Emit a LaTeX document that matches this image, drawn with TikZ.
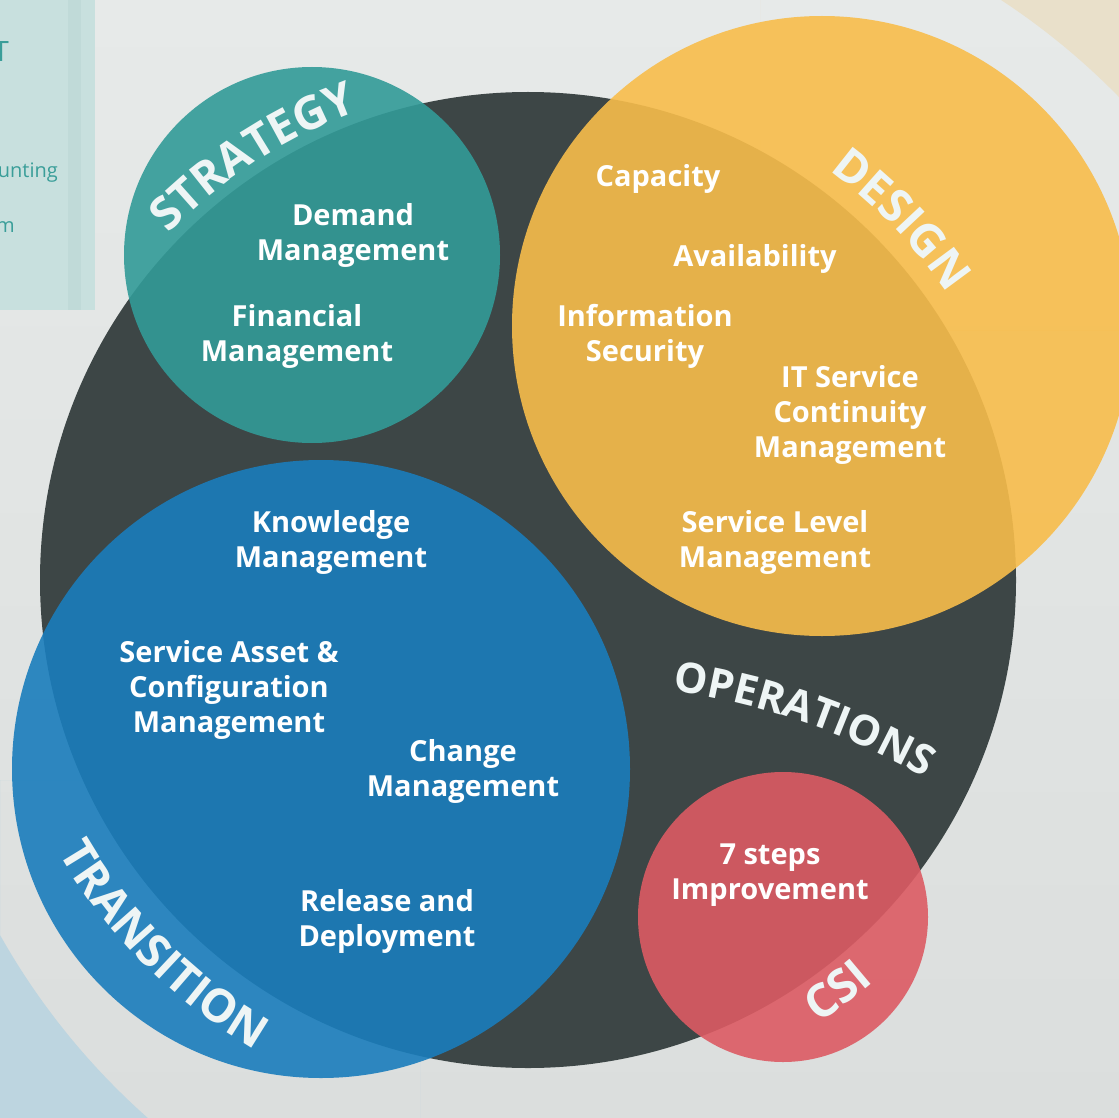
\documentclass[tikz,border=0pt]{standalone}
\usepackage{fontspec}
\usepackage{tikz}
\usetikzlibrary{calc,decorations.text}
\newfontfamily\osans{Open Sans}

\definecolor{bgtop}{HTML}{E7EAE9}
\definecolor{bgbottom}{HTML}{DBDEDD}
\definecolor{beige}{HTML}{E9E0CA}
\definecolor{paleblue}{HTML}{BDD5E0}
\definecolor{panel}{HTML}{C8E0DE}
\definecolor{panelstripe}{HTML}{C0DAD8}
\definecolor{panelink}{HTML}{3A9E99}
\definecolor{ops}{HTML}{3D4646}
\definecolor{strat}{HTML}{329B98}
\definecolor{design}{HTML}{F8BD4B}
\definecolor{trans}{HTML}{1A7DBC}
\definecolor{csi}{HTML}{DC5B63}
\definecolor{labelwhite}{HTML}{EEF5F5}

\tikzset{
  item/.style={text=white, align=center, inner sep=0pt,
    font=\osans\bfseries\fontsize{29}{35}\selectfont},
  ring/.style={fill=#1, fill opacity=0.9},
  arctext/.style 2 args={decorate, decoration={text along path, text align=center,
    text color=labelwhite,
    text={|\osans\bfseries\fontsize{#2}{#2}\selectfont|#1}}},
}

\begin{document}
\begin{tikzpicture}[x=1pt,y=1pt]
  \useasboundingbox (0,0) rectangle (1119,-1118);
  \shade[top color=bgtop, bottom color=bgbottom] (0,0) rectangle (1119,-1118);

  % backdrop behind the big pale disc
  \coordinate (B) at (615,-590);
  \begin{scope}
    \clip (760,0) rectangle (1119,-330);
    \fill[beige, even odd rule] (760,0) rectangle (1119,-330) (B) circle (705pt);
  \end{scope}
  \begin{scope}
    \clip (0,-780) rectangle (420,-1118);
    \fill[paleblue, even odd rule] (0,-780) rectangle (420,-1118) (B) circle (705pt);
  \end{scope}
  \fill[panel] (0,0) rectangle (95,-310);
  \fill[panelstripe] (68,0) rectangle (81,-310);
  \node[anchor=east, inner sep=0pt, text=panelink,
    font=\osans\fontsize{28}{28}\selectfont] (hdr) at (9,-52) {T};
  \node[anchor=east, inner sep=0pt, text=panelink,
    font=\osans\fontsize{20}{20}\selectfont] (acct) at (58,-173) {unting};
  \node[anchor=east, inner sep=0pt, text=panelink,
    font=\osans\fontsize{20}{20}\selectfont] (sys) at (15,-227) {m};

  % the circles
  \coordinate (O) at (528,-580);
  \coordinate (S) at (312,-255);
  \coordinate (D) at (822,-326);
  \coordinate (T) at (321,-769);
  \coordinate (C) at (783,-917);
  \fill[ops] (O) circle (488pt);
  \fill[ring=strat] (S) circle (188pt);
  \fill[ring=design] (D) circle (310pt);
  \fill[ring=trans] (T) circle (309pt);
  \fill[ring=csi] (C) circle (145pt);

  % curved titles
  \path[arctext={STRATEGY}{46}] ($(O)+(143:499pt)$) arc[start angle=143, end angle=103, radius=499pt];
  \path[arctext={DESIGN}{46}] ($(O)+(64:508pt)$) arc[start angle=64, end angle=24, radius=508pt];
  \path[arctext={TRANSITION}{46}] ($(O)+(205:543pt)$) arc[start angle=205, end angle=245, radius=543pt];
  \path[arctext={CSI}{46}] ($(O)+(-73:530pt)$) arc[start angle=-73, end angle=-33, radius=530pt];
  \coordinate (P) at (575,-1384);
  \path[arctext={OPERATIONS}{42}] ($(P)+(84:700pt)$) arc[start angle=84, end angle=58, radius=700pt];

  % processes
  \node[item] (demand) at (353,-235) {Demand\\Management};
  \node[item] (financial) at (297,-336) {Financial\\Management};
  \node[item] (capacity) at (658,-179) {Capacity};
  \node[item] (availability) at (755,-259) {Availability};
  \node[item] (infosec) at (645,-336) {Information\\Security};
  \node[item] (itscm) at (850,-415) {IT Service\\Continuity\\Management};
  \node[item] (slm) at (775,-542) {Service Level\\Management};
  \node[item] (knowledge) at (331,-542) {Knowledge\\Management};
  \node[item] (sacm) at (229,-690) {Service Asset \&\\Configuration\\Management};
  \node[item] (change) at (463,-771) {Change\\Management};
  \node[item] (release) at (387,-921) {Release and\\Deployment};
  \node[item] (steps) at (770,-875) {7 steps\\Improvement};
\end{tikzpicture}
\end{document}
